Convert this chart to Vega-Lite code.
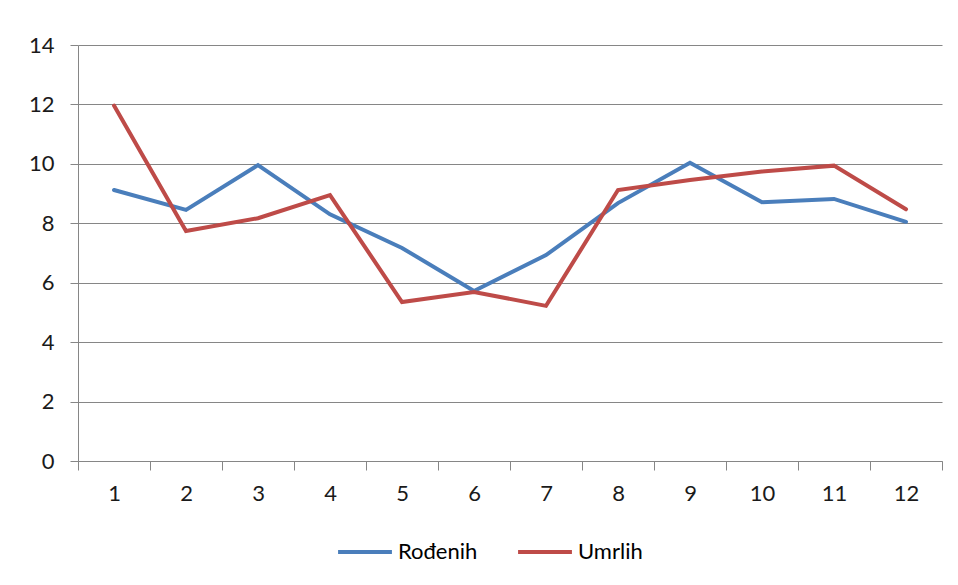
{
  "$schema": "https://vega.github.io/schema/vega-lite/v6.json",
  "width": 864,
  "height": 416,
  "autosize": {"type": "none"},
  "padding": {"left": 78, "top": 45, "right": 16, "bottom": 124},
  "background": "white",
  "config": {
    "view": {"stroke": null},
    "font": "Lato",
    "axis": {"labelFont": "Lato", "labelColor": "#1a1a1a", "labelFontSize": 22, "domainColor": "#868686", "tickColor": "#868686", "gridColor": "#868686", "title": null}
  },
  "data": {
    "values": [
      {"m": 1, "s": "Rođenih", "v": 9.12}, {"m": 2, "s": "Rođenih", "v": 8.45}, {"m": 3, "s": "Rođenih", "v": 9.96},
      {"m": 4, "s": "Rođenih", "v": 8.3}, {"m": 5, "s": "Rođenih", "v": 7.17}, {"m": 6, "s": "Rođenih", "v": 5.72},
      {"m": 7, "s": "Rođenih", "v": 6.93}, {"m": 8, "s": "Rođenih", "v": 8.68}, {"m": 9, "s": "Rođenih", "v": 10.04},
      {"m": 10, "s": "Rođenih", "v": 8.71}, {"m": 11, "s": "Rođenih", "v": 8.82}, {"m": 12, "s": "Rođenih", "v": 8.05},
      {"m": 1, "s": "Umrlih", "v": 11.96}, {"m": 2, "s": "Umrlih", "v": 7.74}, {"m": 3, "s": "Umrlih", "v": 8.17},
      {"m": 4, "s": "Umrlih", "v": 8.95}, {"m": 5, "s": "Umrlih", "v": 5.35}, {"m": 6, "s": "Umrlih", "v": 5.69},
      {"m": 7, "s": "Umrlih", "v": 5.22}, {"m": 8, "s": "Umrlih", "v": 9.12}, {"m": 9, "s": "Umrlih", "v": 9.46},
      {"m": 10, "s": "Umrlih", "v": 9.74}, {"m": 11, "s": "Umrlih", "v": 9.94}, {"m": 12, "s": "Umrlih", "v": 8.47}
    ]
  },
  "mark": {"type": "line", "strokeWidth": 4, "strokeJoin": "miter", "strokeCap": "round"},
  "encoding": {
    "x": {
      "field": "m", "type": "quantitative",
      "scale": {"domain": [0.5, 12.5], "nice": false, "zero": false},
      "axis": {
        "values": [0.5, 1.5, 2.5, 3.5, 4.5, 5.5, 6.5, 7.5, 8.5, 9.5, 10.5, 11.5, 12.5],
        "labelExpr": "datum.value > 12 ? '' : format(datum.value + 0.5, 'd')",
        "labelOffset": 36, "labelAlign": "center", "labelFlush": false, "labelOverlap": false,
        "tickSize": 9, "labelPadding": 13, "grid": false
      }
    },
    "y": {
      "field": "v", "type": "quantitative",
      "scale": {"domain": [0, 14], "nice": false},
      "axis": {"values": [0, 2, 4, 6, 8, 10, 12, 14], "tickSize": 8, "labelPadding": 16, "grid": true}
    },
    "color": {
      "field": "s", "type": "nominal",
      "scale": {"domain": ["Rođenih", "Umrlih"], "range": ["#4A7EBB", "#BE4B48"]},
      "legend": {
        "title": null, "orient": "none", "direction": "horizontal",
        "legendX": 258, "legendY": 478, "padding": 0,
        "symbolType": "stroke", "symbolSize": 2900, "symbolStrokeWidth": 4,
        "labelFont": "Lato", "labelFontSize": 22, "labelColor": "#000000",
        "labelOffset": 4, "columnPadding": 32
      }
    }
  }
}
